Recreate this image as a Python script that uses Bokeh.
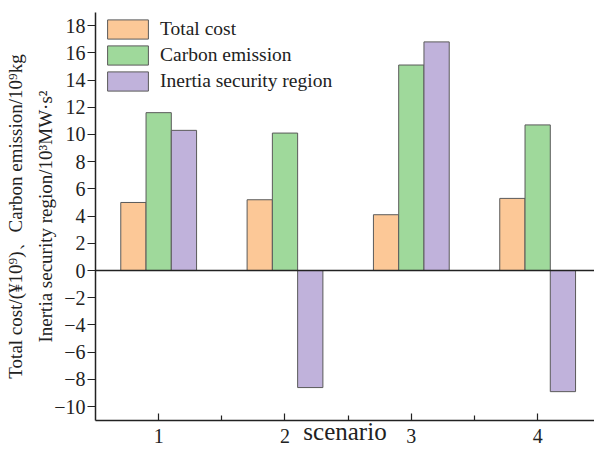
from bokeh.plotting import figure
from bokeh.models import FixedTicker, Span, Legend, LegendItem, ColumnDataSource
from bokeh.transform import dodge
from bokeh.embed import file_html
from bokeh.resources import INLINE

scenarios = [1, 2, 3, 4]
total_cost = [5.0, 5.2, 4.1, 5.3]
carbon_emission = [11.6, 10.1, 15.1, 10.7]
inertia_region = [10.3, -8.6, 16.8, -8.9]
series_names = ["Total cost", "Carbon emission", "Inertia security region"]
y_ticks = list(range(-10, 19, 2))
x_minor = [1.5, 2.5, 3.5]

FONT = "Liberation Serif"
INK = "#222222"

p = figure(width=594, height=454, output_backend="svg", toolbar_location=None,
           x_range=(0.5, 4.45), y_range=(-11.02, 18.96),
           min_border=0, min_border_left=95, min_border_top=12,
           min_border_bottom=34, min_border_right=0)

src = ColumnDataSource(dict(scenario=scenarios, cost=total_cost,
                            carbon=carbon_emission, inertia=inertia_region))
colors = ["#FCC897", "#9FD99B", "#C0B2DB"]
fields = ["cost", "carbon", "inertia"]
offsets = [-0.2, 0.0, 0.2]
renderers = []
for f, off, col in zip(fields, offsets, colors):
    r = p.vbar(x=dodge("scenario", off), top=f, bottom=0, width=0.2, source=src,
               fill_color=col, line_color="#5a5a5a", line_width=1)
    renderers.append(r)

p.add_layout(Span(location=0, dimension="width", line_color=INK, line_width=1.5))

legend = Legend(items=[LegendItem(label=n, renderers=[r]) for n, r in zip(series_names, renderers)],
                location=(7, 327), margin=0, padding=0, spacing=2,
                glyph_width=51, glyph_height=24, label_height=24, label_standoff=7,
                label_text_font=FONT, label_text_font_size="19.5px", label_text_color=INK,
                background_fill_alpha=0, border_line_color=None)
p.add_layout(legend, "center")

p.xgrid.visible = False
p.ygrid.visible = False
p.outline_line_color = None

ya = p.yaxis[0]
ya.ticker = FixedTicker(ticks=y_ticks)
ya.major_label_overrides = {v: str(v).replace("-", "\u2212") for v in y_ticks}
ya.major_tick_out = 8
ya.major_tick_in = 0
ya.minor_tick_out = 0
ya.minor_tick_in = 0
ya.major_label_standoff = 2
ya.axis_label = "Total cost/(\u00a510\u2079)\u3001Carbon emission/10\u2079kg\nInertia security region/10\u00b3MW\u00b7s\u00b2"
ya.axis_label_standoff = -5
ya.axis_label_text_line_height = 1.42

xa = p.xaxis[0]
xa.ticker = FixedTicker(ticks=scenarios, minor_ticks=x_minor)
xa.major_tick_in = 7
xa.major_tick_out = 0
xa.minor_tick_in = 5
xa.minor_tick_out = 0
xa.major_label_standoff = 8
xa.axis_label = "scenario"
xa.axis_label_standoff = -28
xa.axis_label_text_line_height = 1.0

for ax in (xa, ya):
    ax.axis_line_color = INK
    ax.axis_line_width = 1.5
    ax.major_tick_line_color = INK
    ax.major_tick_line_width = 1.2
    ax.minor_tick_line_color = INK
    ax.minor_tick_line_width = 1.2
    ax.major_label_text_font = FONT
    ax.major_label_text_font_size = "20px"
    ax.major_label_text_color = INK
    ax.axis_label_text_font = FONT
    ax.axis_label_text_font_style = "normal"
    ax.axis_label_text_color = INK
ya.axis_label_text_font_size = "19px"
xa.axis_label_text_font_size = "25px"

open("out.html", "w").write(file_html(p, INLINE))
